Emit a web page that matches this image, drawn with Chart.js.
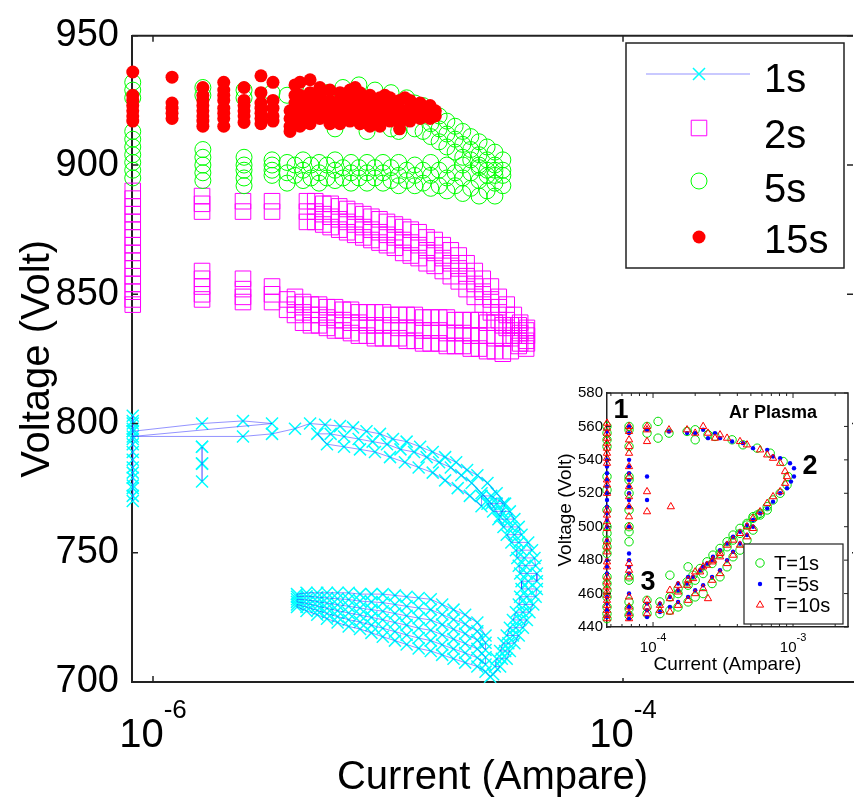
<!DOCTYPE html>
<html><head><meta charset="utf-8">
<script src="https://cdn.jsdelivr.net/npm/chart.js@4/dist/chart.umd.min.js"></script>
<style>
html,body{margin:0;padding:0;background:#fff;}
#wrap{position:relative;width:854px;height:808px;overflow:hidden;}
#main{position:absolute;left:0;top:0;width:854px;height:808px;}
#inset{position:absolute;left:545px;top:378px;width:307px;height:300px;}
</style></head><body>
<div id="wrap">
<canvas id="main" width="854" height="808"></canvas>
<canvas id="inset" width="307" height="300"></canvas>
</div>
<script>
// ================= DATA (currents in µA, voltages in V) =================
const mainXTickValues = [1e-6, 1e-4];
const mainYTickValues = [700, 750, 800, 850, 900, 950];
const legendLabels = ['1s', '2s', '5s', '15s'];

// 1s series, in acquisition order (line connects them)
const path1s = [
 [0.82,803],[0.82,776],[0.82,800],[0.82,772],[0.82,797],[0.82,779],[0.82,794],[0.82,770],[0.82,801],[0.82,783],
 [0.82,789],[0.82,775],[0.82,798],[0.82,786],[0.82,792],[0.82,781],[0.82,797],
 [1.617,800],[2.415,801],[3.21,800],[0.82,795],[2.415,795],[3.21,796],
 // upper arc, top row
 [4.02,798],[4.66,800],[5.4,799.5],[6.25,799],[7.1,798.5],[8.1,797],[9.24,796],[10.5,794],[12,793],[13.7,791],
 [15.5,789],[17.5,787],[19.5,785],[21.7,782],[24,780],[26.5,777],[29,773],[31.5,769],
 // upper arc, middle row
 [30,764],[27.5,769],[25,773],[22.7,777],[20.5,780],[18.5,783],[16.5,785],[14.6,787],[12.9,789],[11.3,790],
 [9.9,792],[8.6,793],[7.5,794],[6.5,795],[5.7,796],[5,796],
 // upper arc, bottom row
 [5.5,792],[6.5,791],[7.6,790],[8.8,789],[10.2,787],[11.8,785],[13.5,783],[15.5,781],[17.5,778],[19.8,775],
 [22.3,772],[25,768],
 // right side
 [25,772],[27.5,772],[31,769],[29,769],[26.5,769],[28,766],[30.5,766],[33,766],[34.5,763],[32,763],[29.5,763],
 [31,760],[33.5,760],[36,760],[37,757],[34.5,757],[32,757],[33.5,754],[36,754],[39.5,754],[41,751],[37,751],
 [35,751],[35.5,748],[38,748],[42,748],[42.5,745],[38.5,745],[36,745],[36.5,742],[39,742],[43,742],[43,739],
 [39.5,739],[37,739],[37,736],[39.5,736],[43,736],[42.5,733],[39,733],[36.5,733],[36,730],[38.5,730],[41.5,730],
 [40,727],[37.5,727],[35,727],[34,724],[36.5,724],[39,724],[37.5,721],[35,721],[33,721],[32,718],[34,718],
 [36,718],[34.5,715],[32.5,715],[31,715],[30,712],[31.5,712],[33,712],[32,709],[30.5,709],[29,709],[28.5,706],
 [30,706],[28,703],[27.2,702],
 // lower wedge rows
 [26,704],[24,706],[21.3,707.5],[19,709],[17,710.5],[15.2,712],[13.5,713],[12,714.5],[10.7,716],[9.5,717.5],
 [8.5,719],[7.6,720.5],[6.8,721.5],[6.1,723],[5.5,724.5],[5,726],[4.5,727.5],[4.1,729],
 [4.1,730],[4.5,729],[5,727.7],[5.5,726.5],[6.1,725.3],[6.8,724.1],[7.6,723.2],[8.5,722],[9.5,720.8],
 [10.7,719.5],[12,718.2],[13.5,717],[15.2,716],[17,714.4],[19,712.8],[21.3,711.2],[24,709.4],[26,706.8],
 [26,709.6],[24,712.8],[21.3,714.9],[19,716.6],[17,718.3],[15.2,720],[13.5,720.8],[12,722],[10.7,723],
 [9.5,724.1],[8.5,725],[7.6,725.9],[6.8,726.7],[6.1,727.6],[5.5,728.5],[5,729.4],[4.5,730.4],[4.1,731],
 [4.1,732],[4.5,731.8],[5,731.1],[5.5,730.5],[6.1,729.9],[6.8,729.3],[7.6,728.6],[8.5,728],[9.5,727.4],
 [10.7,726.5],[12,725.6],[13.5,724.7],[15.2,724],[17,722.2],[19,720.4],[21.3,718.7],[24,716.2],[26,712.4],
 [26,715.2],[24,719.6],[21.3,722.4],[19,724.2],[17,726.1],[15.2,728],[13.5,728.6],[12,729.3],[10.7,730],
 [9.5,730.7],[8.5,731],[7.6,731.3],[6.8,731.9],[6.1,732.2],[5.5,732.5],[5,732.8],[4.5,733.2],[4.1,733],
 [4.1,734],[4.5,734.5],[5,734.5],[5.5,734.5],[6.1,734.5],[6.8,734.5],[7.6,734],[8.5,734],[9.5,734],
 [10.7,733.5],[12,733],[13.5,732.5],[15.2,732],[17,730],[19,728],[21.3,726],[24,723],[26,718]
];
const cluster1s = [[1.617,791],[1.617,784.5],[1.617,777.6],[1.617,784.5],[1.617,791]];

// 2s series: [current µA, [voltages]]
const columns2s = [
 [0.82,[890,887,884,881,878,875,872,869,866,863,860,857,854,851,848,846]],
 [1.617,[888,885,882,859,856,853,850,848]],
 [2.415,[886,882,856,852,849,847]],
 [3.21,[886,882,853,850,847]],
 [3.72,[848,844]], [4.02,[849,846,842]], [4.35,[847,843,839]], [4.7,[846,842,838]], [5.09,[846,842,838]],
 [5.5,[845,841,837]], [5.95,[845,840,836]], [6.43,[844,840,836]], [6.96,[844,839,835]], [7.52,[843,839,834]],
 [8.14,[843,838,834]], [8.8,[843,838,833]], [9.52,[843,838,833]], [10.3,[842,838,833]], [11.1,[842,837,833]],
 [12.0,[842,837,832]], [13.0,[842,837,832]], [14.1,[841,836,831]], [15.2,[841,836,831]], [16.5,[841,836,831]],
 [17.8,[841,835,830]], [19.3,[840,835,830]], [20.8,[840,835,830]], [22.5,[840,834,829]], [24.4,[840,834,829]],
 [26.4,[839,834,828]], [28.5,[839,833,828]], [30.8,[838,833,827]], [33.3,[838,833,828]], [36.0,[838,834,830]],
 [39.0,[837,834,831]],
 [4.52,[886,882,878]], [4.9,[886,882,878]], [5.3,[885,881,877]], [5.7,[885,880,876]], [6.2,[884,879,875]],
 [6.7,[883,878,874]], [7.25,[882,877,873]], [7.85,[881,876,872]], [8.5,[880,875,871]], [9.2,[879,874,870]],
 [9.9,[878,873,869]], [10.7,[877,872,868]], [11.6,[876,871,866]], [12.5,[875,870,865]], [13.5,[874,869,864]],
 [14.6,[872,867,862]], [15.8,[871,866,861]], [17.1,[869,864,859]], [18.5,[867,862,857]], [20.0,[865,860,855]],
 [21.6,[862,857,852]], [23.4,[859,854,849]], [25.3,[856,851,846]], [27.4,[853,848,843]], [29.6,[849,845,840]],
 [32.0,[846,842,837]], [34.3,[842,838,834]], [36.5,[839,835,831]], [38.7,[836,832,829]]
];

// 5s series
const columns5s = [
 [0.82,[932,929,926,913,910,907,904,901,898,895]],
 [1.63,[930,927,906,903,900,897,894]],
 [2.44,[929,926,903,900,898,895,892]],
 [3.21,[928,902,900,898,896]],
 [3.72,[927,901,897,893]], [4.02,[900,896]], [4.35,[902,898,894]], [4.7,[929,900,895]], [5.09,[901,897,893]],
 [5.5,[928,900,895]], [5.95,[914,902,898,894]], [6.43,[930,899,895]], [6.96,[901,897,893]], [7.52,[931,899,895]],
 [8.14,[913,901,897,893]], [8.8,[929,899,895]], [9.52,[901,897,893]], [10.3,[928,914,899,894]],
 [11.1,[913,901,896,892]], [12.0,[926,898,894]], [13.0,[924,914,900,896,892]], [14.1,[923,913,898,893]],
 [15.2,[921,916,911,901,896,891]], [16.5,[919,914,909,898,892]], [17.8,[917,912,907,900,895,890]],
 [19.3,[915,910,905,897,892]], [20.8,[913,908,903,900,895,889]], [22.5,[911,906,902,897,891]],
 [24.4,[909,904,900,899,894,888]], [26.4,[907,902,898,896,890]], [28.5,[905,900,896,898,893,888]],
 [30.8,[902,898,896,892]]
];

// 15s series
const columns15s = [
 [0.82,[936,927,925,923,921,919,917]],
 [1.205,[934,924,922,920,918]],
 [1.63,[930,927,925,923,921,919,917,915]],
 [2.0,[932,929,927,925,922,920,918,915]],
 [2.44,[930,925,923,921,919,916.5]],
 [2.88,[934.5,928,924,922,920,918,916]],
 [3.24,[932,925,922,919,917]],
 [3.83,[921,918,915,913]],
 [4.02,[931,927,924,921,918,916]],
 [4.22,[932,927,924,921,918,915]],
 [4.45,[926,920]],
 [4.66,[933,928,925,922,919,916]],
 [5.13,[930,927,924,921,918]],
 [5.66,[929,925,922,919,916]],
 [6.25,[928,925,922,919,916]],
 [6.89,[929,926,923,920,917]],
 [7.25,[930,924,918]],
 [7.6,[928,925,922,919,916]],
 [8.38,[927,924,921,918,915]],
 [9.24,[926,923,920,917,915]],
 [9.7,[927,921]],
 [10.2,[926,923,920,917]],
 [11.2,[925,922,919,916,914]],
 [11.8,[926,920]],
 [12.4,[925,922,919,917]],
 [13.7,[924,921,918]],
 [14.4,[922,919]],
 [15.1,[923,920,918]],
 [15.9,[921,919]]
];

// ---------------- inset (Ar Plasma) ----------------
const insetXTickValues = [1e-4, 1e-3];
const insetYTickValues = [440,460,480,500,520,540,560,580];
const insetLegendLabels = ['T=1s','T=5s','T=10s'];

const insetColumnsT1 = [
 [46.9,[560,556,552,548,530,522,510,500,496,492,488,484,470,466,462,458,452,448,445]],
 [67.4,[560,558,548,530,528,520,510,500,497,491,470,468,455,451,447]],
 [90.6,[560,556,456,452,448]]
];
const insetLoopT1 = [
 [108.6,563],[108.6,553],[130,556],[175,557],[200,558],[200,552],[247,555],[277,554],[367,552],[439,549],[554,547],
 [687,544],[850,539],[920,530],[906,525],[809,520],[720,516],[654,512],[582,508],[518,505],[469,502],[418,499],
 [373,495],[338,491],[301,487],[268,483],[243,479],[217,475],[193,471],[175,467],[151,463],[112,448],[112,455],
 [132,450],[132,458],[132,471],[151,452],[151,460],[178,455],[178,465],[178,476],[200,458],[200,468],[228,460],
 [228,472],[264,466],[264,478],[301,470],[301,484],[338,476],[338,488],[373,482],[373,492],[418,486],[418,496],
 [469,492],[469,501],[518,498],[518,506],[554,507],[582,507],[654,510]
];
const insetColumnsT5 = [
 [46.9,[557,540,536,532,528,524,520,516,512,508,504,500,492,480,476,472,458,454,450,446]],
 [67.4,[560,556,540,536,532,528,524,520,516,512,500,484,480,476,472,460,452,448,445]],
 [90.6,[558,530,516,454,450,446]]
];
const insetLoopT5 = [
 [130,557],[175,556],[200,556],[228,558],[247,553],[277,556],[301,553],[367,551],[439,550],[518,547],[654,546],
 [720,542],[809,541],[952,538],[1016,535],[1016,530],[967,527],[906,523],[809,520],[720,515],[654,511],[582,508],
 [518,504],[469,501],[418,497],[373,494],[338,490],[301,486],[268,482],[243,478],[217,474],[193,470],[175,466],
 [151,462],[132,458],[112,454],[112,449],[132,452],[151,455],[151,466],[178,458],[178,470],[200,462],[228,465],
 [228,476],[264,470],[264,480],[301,474],[338,480],[373,485],[418,490],[469,495],[518,500]
];
const insetColumnsT10 = [
 [46.9,[562,559,556,553,550,547,544,541,538,528,525,520,510,507,503,499,491,488,485,479,476,470,467,464,461,459,456,453,450,447,445]],
 [67.4,[560,557,552,548,544,536,530,524,518,512,506,500,478,474,470,458,452,448,445]],
 [90.6,[560,558,551,521,509,456,452,448]]
];
const insetLoopT10 = [
 [134,512],[130,558],[175,558],[200,556],[228,560],[247,556],[277,553],[301,555],[338,553],[418,551],[469,549],
 [582,546],[654,543],[720,541],[809,538],[877,533],[906,530],[877,526],[809,521],[720,518],[654,514],[582,509],
 [518,505],[469,500],[418,496],[373,492],[338,489],[301,484],[268,480],[243,477],[217,473],[193,469],[175,465],
 [151,461],[132,457],[112,453],[112,450],[132,449],[132,462],[151,453],[151,465],[178,456],[178,468],[200,460],
 [200,473],[228,463],[228,476],[264,468],[264,479],[301,472],[301,482],[338,478],[373,483],[418,489],[469,494],
 [518,499],[247,457]
];

// ================= HELPERS =================
const MICRO = 1e-6;
const FAM = "'Liberation Sans', Arial, Helvetica, sans-serif";
Chart.defaults.font.family = FAM;
Chart.defaults.color = '#000';
const pairsToPts = p => p.map(q => ({x: q[0]*MICRO, y: q[1]}));
const colsToPts = c => c.flatMap(q => q[1].map(v => ({x: q[0]*MICRO, y: v})));

function drawMarker(ctx, st, x, y) {
  ctx.save();
  ctx.lineWidth = st.bw; ctx.strokeStyle = st.stroke; ctx.fillStyle = st.fill || 'rgba(0,0,0,0)';
  ctx.beginPath();
  const r = st.r, s = r * Math.SQRT1_2;
  if (st.shape === 'circle') { ctx.arc(x, y, r, 0, Math.PI*2); }
  else if (st.shape === 'rect') { ctx.rect(x - s, y - s, 2*s, 2*s); }
  else if (st.shape === 'crossRot') { ctx.moveTo(x-s,y-s); ctx.lineTo(x+s,y+s); ctx.moveTo(x+s,y-s); ctx.lineTo(x-s,y+s); }
  else if (st.shape === 'triangle') {
    ctx.moveTo(x, y - r); ctx.lineTo(x + r*0.866, y + r*0.5); ctx.lineTo(x - r*0.866, y + r*0.5); ctx.closePath();
  }
  if (st.fill) ctx.fill();
  if (st.bw > 0) ctx.stroke();
  ctx.restore();
}
function drawPow(ctx, px, baseY, supY, exp, f1, f2) {
  ctx.font = f1 + 'px ' + FAM; const w1 = ctx.measureText('10').width;
  ctx.font = f2 + 'px ' + FAM; const w2 = ctx.measureText(exp).width;
  const x0 = px - (w1 + w2) / 2;
  ctx.fillStyle = '#000'; ctx.textAlign = 'left'; ctx.textBaseline = 'alphabetic';
  ctx.font = f1 + 'px ' + FAM; ctx.fillText('10', x0, baseY);
  ctx.font = f2 + 'px ' + FAM; ctx.fillText(exp, x0 + w1, supY);
}

// ================= MAIN CHART =================
const S1 = {shape:'crossRot', r:8.5, stroke:'#00ffff', bw:1.5, line:'rgba(40,40,255,0.5)'};
const S2 = {shape:'rect', r:11, stroke:'#ff00ff', bw:1};
const S5 = {shape:'circle', r:8, stroke:'#00ff00', bw:1};
const S15 = {shape:'circle', r:6.5, stroke:'#ff0000', fill:'#ff0000', bw:0};

function ptDs(label, data, st, order) {
  return {label, data, order, clip:false, showLine:false,
    pointStyle: st.shape, pointRadius: st.r, pointHoverRadius: st.r,
    pointBorderColor: st.stroke, pointBackgroundColor: st.fill || 'rgba(0,0,0,0)', pointBorderWidth: st.bw};
}
function lineDs(label, data, color, order) {
  return {label, data, order, clip:false, showLine:true, fill:false, tension:0,
    borderColor: color, borderWidth: 1, pointRadius: 0, pointHoverRadius: 0};
}

const mainDeco = {
  id: 'mainDeco',
  beforeDraw(chart) { const c = chart.ctx; c.save(); c.fillStyle = '#fff'; c.fillRect(0,0,chart.width,chart.height); c.restore(); },
  afterDraw(chart) {
    const {ctx, chartArea: a, scales: {x, y}} = chart;
    ctx.save();
    ctx.strokeStyle = '#222'; ctx.lineWidth = 2;
    ctx.beginPath(); ctx.moveTo(a.left, a.top); ctx.lineTo(a.right, a.top); ctx.stroke();
    ctx.lineWidth = 1.5;
    mainYTickValues.forEach(v => { const py = y.getPixelForValue(v); ctx.beginPath();
      ctx.moveTo(a.left, py); ctx.lineTo(a.left + 6, py); ctx.moveTo(a.right, py); ctx.lineTo(a.right - 6, py); ctx.stroke(); });
    mainXTickValues.forEach(v => { const px = x.getPixelForValue(v); ctx.beginPath();
      ctx.moveTo(px, a.bottom); ctx.lineTo(px, a.bottom - 6); ctx.moveTo(px, a.top); ctx.lineTo(px, a.top + 6); ctx.stroke(); });
    mainXTickValues.forEach(v => drawPow(ctx, x.getPixelForValue(v), 747, 718, String(Math.round(Math.log10(v))), 40, 26));
    // legend
    ctx.fillStyle = '#fff'; ctx.fillRect(626, 43, 218, 225);
    ctx.strokeStyle = '#222'; ctx.lineWidth = 1.5; ctx.strokeRect(626, 43, 218, 225);
    const rowY = [74, 128, 181, 237], baseY = [92, 148, 202, 253];
    const styles = [S1, S2, S5, S15];
    ctx.strokeStyle = S1.line; ctx.lineWidth = 1;
    ctx.beginPath(); ctx.moveTo(646, rowY[0]); ctx.lineTo(750, rowY[0]); ctx.stroke();
    styles.forEach((st, i) => drawMarker(ctx, st, 699, rowY[i]));
    ctx.fillStyle = '#000'; ctx.font = '40px ' + FAM; ctx.textAlign = 'left'; ctx.textBaseline = 'alphabetic';
    legendLabels.forEach((t, i) => ctx.fillText(t, 764, baseY[i]));
    ctx.restore();
  }
};

new Chart(document.getElementById('main'), {
  type: 'scatter',
  data: { datasets: [
    ptDs('15s', colsToPts(columns15s), S15, 0),
    ptDs('5s', colsToPts(columns5s), S5, 1),
    ptDs('2s', colsToPts(columns2s), S2, 2),
    lineDs('1s path', pairsToPts(path1s), S1.line, 3),
    lineDs('1s path b', pairsToPts(cluster1s), S1.line, 3),
    ptDs('1s', pairsToPts(path1s), S1, 4),
    ptDs('1s b', pairsToPts(cluster1s), S1, 4)
  ]},
  options: {
    responsive: false, animation: false, events: [],
    layout: { autoPadding: false, padding: { top: 25, right: 1, left: 0, bottom: 0 } },
    plugins: { legend: { display: false }, tooltip: { enabled: false } },
    scales: {
      x: { type: 'logarithmic', min: 8.14e-7, max: 9.52e-4,
        afterBuildTicks(s) { s.ticks = mainXTickValues.map(v => ({value: v})); },
        afterFit(s) { s.height = 126; s.paddingLeft = 0; s.paddingRight = 0; },
        ticks: { callback: () => '' },
        grid: { display: false, drawTicks: false },
        border: { display: true, color: '#222', width: 2 },
        title: { display: true, text: 'Current (Ampare)', color: '#000', font: { size: 40 }, padding: { top: 0, bottom: 6 } } },
      y: { min: 700, max: 950,
        afterBuildTicks(s) { s.ticks = mainYTickValues.map(v => ({value: v})); },
        afterFit(s) { s.width = 132; },
        ticks: { font: { size: 38 }, color: '#000', padding: 13 },
        grid: { display: false, drawTicks: false },
        border: { display: true, color: '#222', width: 2 },
        title: { display: true, text: 'Voltage (Volt)', color: '#000', font: { size: 40 }, padding: { top: 14, bottom: 0 } } }
    }
  },
  plugins: [mainDeco]
});

// ================= INSET CHART =================
const T1 = {shape:'circle', r:4.2, stroke:'#00e000', bw:1};
const T5 = {shape:'circle', r:2.2, stroke:'#0000ff', fill:'#0000ff', bw:0};
const T10 = {shape:'triangle', r:4.2, stroke:'#ff0000', bw:1};

const insetDeco = {
  id: 'insetDeco',
  beforeDraw(chart) { const c = chart.ctx; c.save(); c.fillStyle = '#fff'; c.fillRect(0,0,chart.width,chart.height); c.restore(); },
  afterDraw(chart) {
    const {ctx, chartArea: a, scales: {x, y}} = chart;
    ctx.save();
    ctx.strokeStyle = '#222'; ctx.lineWidth = 1.5;
    ctx.beginPath(); ctx.moveTo(a.left, a.top); ctx.lineTo(a.right, a.top); ctx.lineTo(a.right, a.bottom); ctx.stroke();
    ctx.lineWidth = 1;
    insetYTickValues.forEach(v => { const py = y.getPixelForValue(v); ctx.beginPath();
      ctx.moveTo(a.left, py); ctx.lineTo(a.left + 4, py); ctx.moveTo(a.right, py); ctx.lineTo(a.right - 4, py); ctx.stroke(); });
    for (let d = -5; d <= -3; d++) for (let m = 1; m <= 9; m++) {
      const v = m * Math.pow(10, d);
      if (v < x.min || v > x.max) continue;
      const px = x.getPixelForValue(v), len = m === 1 ? 5 : 3;
      ctx.beginPath(); ctx.moveTo(px, a.bottom); ctx.lineTo(px, a.bottom - len); ctx.moveTo(px, a.top); ctx.lineTo(px, a.top + len); ctx.stroke();
    }
    insetXTickValues.forEach(v => drawPow(ctx, x.getPixelForValue(v), 274, 263, String(Math.round(Math.log10(v))), 15, 11));
    ctx.fillStyle = '#000'; ctx.textAlign = 'center'; ctx.textBaseline = 'middle';
    ctx.font = 'bold 27px ' + FAM;
    ctx.fillText('1', 76, 33); ctx.fillText('2', 265, 89); ctx.fillText('3', 103, 205);
    ctx.font = 'bold 18px ' + FAM;
    ctx.fillText('Ar Plasma', 228, 35);
    ctx.fillStyle = '#fff'; ctx.fillRect(199, 166, 99, 80);
    ctx.strokeStyle = '#222'; ctx.lineWidth = 1.2; ctx.strokeRect(199, 166, 99, 80);
    const rows = [185, 206, 227];
    [T1, T5, T10].forEach((st, i) => drawMarker(ctx, st, 215, rows[i]));
    ctx.fillStyle = '#000'; ctx.font = '20px ' + FAM; ctx.textAlign = 'left'; ctx.textBaseline = 'middle';
    insetLegendLabels.forEach((t, i) => ctx.fillText(t, 229, rows[i] + 1));
    ctx.restore();
  }
};

new Chart(document.getElementById('inset'), {
  type: 'scatter',
  data: { datasets: [
    ptDs('T=10s', colsToPts(insetColumnsT10).concat(pairsToPts(insetLoopT10)), T10, 0),
    ptDs('T=5s', colsToPts(insetColumnsT5).concat(pairsToPts(insetLoopT5)), T5, 1),
    ptDs('T=1s', colsToPts(insetColumnsT1).concat(pairsToPts(insetLoopT1)), T1, 2)
  ]},
  options: {
    responsive: false, animation: false, events: [],
    layout: { autoPadding: false, padding: { top: 15, right: 4, left: 0, bottom: 0 } },
    plugins: { legend: { display: false }, tooltip: { enabled: false } },
    scales: {
      x: { type: 'logarithmic', min: 4.69e-5, max: 2.47e-3,
        afterBuildTicks(s) { s.ticks = insetXTickValues.map(v => ({value: v})); },
        afterFit(s) { s.height = 51; s.paddingLeft = 0; s.paddingRight = 0; },
        ticks: { callback: () => '' },
        grid: { display: false, drawTicks: false },
        border: { display: true, color: '#222', width: 1.5 },
        title: { display: true, text: 'Current (Ampare)', color: '#000', font: { size: 19 }, padding: { top: 0, bottom: 2 } } },
      y: { min: 440, max: 580,
        afterBuildTicks(s) { s.ticks = insetYTickValues.map(v => ({value: v})); },
        afterFit(s) { s.width = 62; },
        ticks: { font: { size: 15 }, color: '#000', padding: 4 },
        grid: { display: false, drawTicks: false },
        border: { display: true, color: '#222', width: 1.5 },
        title: { display: true, text: 'Voltage (Volt)', color: '#000', font: { size: 19 }, padding: { top: 9, bottom: 0 } } }
    }
  },
  plugins: [insetDeco]
});
</script>
</body></html>
